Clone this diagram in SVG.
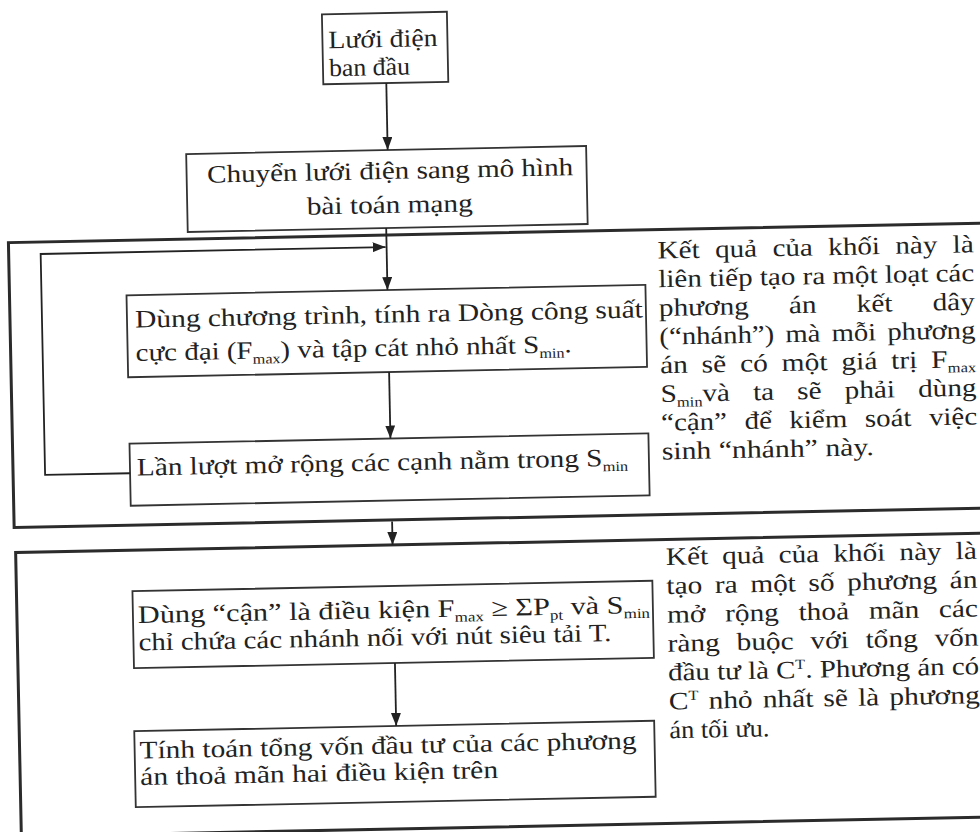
<svg xmlns="http://www.w3.org/2000/svg" width="980" height="832" viewBox="0 0 980 832">
<style>
.t{font-family:"Liberation Serif","Times New Roman",serif;font-size:25px;fill:#222;}
.s{font-size:14px;}
.box{fill:none;stroke:#333;stroke-width:1.8;}
.frame{fill:none;stroke:#2b2b2b;stroke-width:3;}
.conn{fill:none;stroke:#222;stroke-width:1.8;}
</style>
<defs>
<marker id="ah" markerWidth="14" markerHeight="11" refX="13" refY="5" orient="auto" markerUnits="userSpaceOnUse">
<path d="M0,0 L13,5 L0,10 z" fill="#222"/>
</marker>
</defs>
<rect x="0" y="0" width="980" height="832" fill="#fff"/>
<g transform="rotate(-1.15 490 416)">
<g id="frame1"><rect class="frame" x="12" y="233" width="988" height="285"/></g>
<g id="frame2"><rect class="frame" x="13" y="543" width="987" height="284"/></g>

<g id="n1">
<rect class="box" x="330" y="11" width="125" height="70"/>
<text class="t" x="336" y="45" textLength="109" lengthAdjust="spacingAndGlyphs">Lưới điện</text>
<text class="t" x="336" y="73" textLength="81" lengthAdjust="spacingAndGlyphs">ban đầu</text>
</g>

<g id="n2">
<rect class="box" x="191.5" y="148" width="400" height="78"/>
<text class="t" x="212" y="177" textLength="366" lengthAdjust="spacingAndGlyphs">Chuyển lưới điện sang mô hình</text>
<text class="t" x="311" y="211" textLength="166" lengthAdjust="spacingAndGlyphs">bài toán mạng</text>
</g>

<g id="n3">
<rect class="box" x="129" y="288" width="519" height="82"/>
<text class="t" x="137" y="320.5" textLength="508" lengthAdjust="spacingAndGlyphs">Dùng chương trình, tính ra Dòng công suất</text>
<text class="t" x="137" y="354" textLength="436" lengthAdjust="spacingAndGlyphs">cực đại (F<tspan class="s" dy="5">max</tspan><tspan dy="-5">) và tập cát nhỏ nhất S</tspan><tspan class="s" dy="5">min</tspan><tspan dy="-5">.</tspan></text>
</g>

<g id="n4">
<rect class="box" x="129" y="436.5" width="519" height="62"/>
<text class="t" x="136" y="468.5" textLength="491" lengthAdjust="spacingAndGlyphs">Lần lượt mở rộng các cạnh nằm trong S<tspan class="s" dy="5">min</tspan></text>
</g>

<g id="note1">
<text class="t" x="661" y="262" textLength="316" lengthAdjust="spacingAndGlyphs" style="word-spacing:7px">Kết quả của khối này là</text>
<text class="t" x="661" y="290.7" textLength="316" lengthAdjust="spacingAndGlyphs" style="word-spacing:0px">liên tiếp tạo ra một loạt các</text>
<text class="t" x="661" y="319.4" textLength="316" lengthAdjust="spacingAndGlyphs" style="word-spacing:28px">phương án kết dây</text>
<text class="t" x="661" y="348.1" textLength="316" lengthAdjust="spacingAndGlyphs" style="word-spacing:3.5px">(“nhánh”) mà mỗi phương</text>
<text class="t" x="661" y="376.8" textLength="316" lengthAdjust="spacingAndGlyphs" style="word-spacing:5.5px">án sẽ có một giá trị F<tspan class="s" dy="5">max</tspan></text>
<text class="t" x="661" y="405.5" textLength="316" lengthAdjust="spacingAndGlyphs" style="word-spacing:13.5px">S<tspan class="s" dy="5">min</tspan><tspan dy="-5">và ta sẽ phải dùng</tspan></text>
<text class="t" x="661" y="434.2" textLength="316" lengthAdjust="spacingAndGlyphs" style="word-spacing:9px">“cận” để kiểm soát việc</text>
<text class="t" x="661" y="462.9" textLength="212" lengthAdjust="spacingAndGlyphs">sinh “nhánh” này.</text>
</g>

<g id="n5">
<rect class="box" x="129" y="584" width="520" height="77"/>
<text class="t" x="134" y="616" textLength="512" lengthAdjust="spacingAndGlyphs">Dùng “cận” là điều kiện F<tspan class="s" dy="5">max</tspan><tspan dy="-5"> ≥ ΣP</tspan><tspan class="s" dy="5">pt</tspan><tspan dy="-5"> và S</tspan><tspan class="s" dy="5">min</tspan></text>
<text class="t" x="134" y="643.5" textLength="473" lengthAdjust="spacingAndGlyphs">chỉ chứa các nhánh nối với nút siêu tải T.</text>
</g>

<g id="n6">
<rect class="box" x="128" y="724" width="520" height="76"/>
<text class="t" x="133" y="751.5" textLength="497" lengthAdjust="spacingAndGlyphs">Tính toán tổng vốn đầu tư của các phương</text>
<text class="t" x="133" y="778" textLength="358" lengthAdjust="spacingAndGlyphs">án thoả mãn hai điều kiện trên</text>
</g>

<g id="note2">
<text class="t" x="663" y="568.5" textLength="311" lengthAdjust="spacingAndGlyphs" style="word-spacing:5.8px">Kết quả của khối này là</text>
<text class="t" x="663" y="597.4" textLength="311" lengthAdjust="spacingAndGlyphs" style="word-spacing:4.5px">tạo ra một số phương án</text>
<text class="t" x="663" y="626.3" textLength="311" lengthAdjust="spacingAndGlyphs" style="word-spacing:10.6px">mở rộng thoả mãn các</text>
<text class="t" x="663" y="655.2" textLength="311" lengthAdjust="spacingAndGlyphs" style="word-spacing:8.1px">ràng buộc với tổng vốn</text>
<text class="t" x="663" y="684.1" textLength="311" lengthAdjust="spacingAndGlyphs">đầu tư là C<tspan class="s" dy="-9">T</tspan><tspan dy="9">. Phương án có</tspan></text>
<text class="t" x="663" y="713" textLength="311" lengthAdjust="spacingAndGlyphs" style="word-spacing:2.3px">C<tspan class="s" dy="-9">T</tspan><tspan dy="9"> nhỏ nhất sẽ là phương</tspan></text>
<text class="t" x="663" y="741.9" textLength="100" lengthAdjust="spacingAndGlyphs">án tối ưu.</text>
</g>

<g id="connectors">
<line class="conn" x1="393" y1="81" x2="393" y2="148" marker-end="url(#ah)"/>
<line class="conn" x1="390" y1="226" x2="390" y2="288" marker-end="url(#ah)"/>
<line class="conn" x1="390" y1="370" x2="390" y2="436.5" marker-end="url(#ah)"/>
<line class="conn" x1="390" y1="519.5" x2="390" y2="543" marker-end="url(#ah)"/>
<line class="conn" x1="390" y1="661" x2="390" y2="724" marker-end="url(#ah)"/>
<polyline class="conn" points="129,466 44,466 44,245 389,245" marker-end="url(#ah)"/>
</g>
</g>
</svg>
